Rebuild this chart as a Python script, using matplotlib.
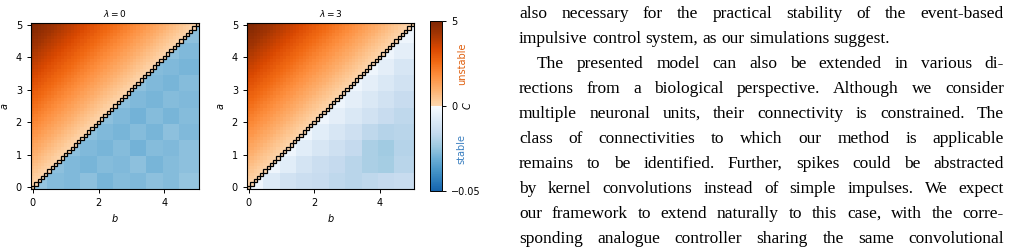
import numpy as np
import matplotlib
matplotlib.use('Agg')
import matplotlib.pyplot as plt
from matplotlib.colors import ListedColormap, TwoSlopeNorm
from matplotlib.patches import Rectangle

# ---------------- data ----------------
grid = np.round(np.arange(51) * 0.1, 1)          # a and b sample points, 0 ... 5
titles = [r'$\lambda = 0$', r'$\lambda = 3$']

# stable side (b > a): coarse estimates, one value per 0.5 x 0.5 block
# rows: a block (bottom -> top), cols: b block (left -> right)
stable_lam0 = [
    [-0.025, -0.027, -0.028, -0.026, -0.029, -0.027, -0.028, -0.026, -0.027, -0.025],
    [-0.025, -0.026, -0.028, -0.029, -0.027, -0.028, -0.026, -0.029, -0.027, -0.026],
    [-0.025, -0.025, -0.026, -0.028, -0.029, -0.027, -0.030, -0.027, -0.028, -0.026],
    [-0.025, -0.025, -0.025, -0.026, -0.028, -0.029, -0.027, -0.029, -0.026, -0.028],
    [-0.025, -0.025, -0.025, -0.025, -0.026, -0.028, -0.030, -0.027, -0.029, -0.027],
    [-0.025, -0.025, -0.025, -0.025, -0.025, -0.026, -0.028, -0.029, -0.027, -0.028],
    [-0.025, -0.025, -0.025, -0.025, -0.025, -0.025, -0.026, -0.028, -0.029, -0.027],
    [-0.025, -0.025, -0.025, -0.025, -0.025, -0.025, -0.025, -0.027, -0.028, -0.029],
    [-0.025, -0.025, -0.025, -0.025, -0.025, -0.025, -0.025, -0.025, -0.026, -0.028],
    [-0.025, -0.025, -0.025, -0.025, -0.025, -0.025, -0.025, -0.025, -0.025, -0.026],
]
stable_lam3 = [
    [-0.003, -0.008, -0.012, -0.014, -0.015, -0.017, -0.018, -0.017, -0.016, -0.015],
    [-0.001, -0.003, -0.007, -0.011, -0.014, -0.016, -0.018, -0.021, -0.022, -0.018],
    [-0.001, -0.001, -0.003, -0.007, -0.010, -0.013, -0.016, -0.021, -0.023, -0.019],
    [-0.001, -0.001, -0.001, -0.003, -0.007, -0.010, -0.013, -0.017, -0.019, -0.018],
    [-0.001, -0.001, -0.001, -0.001, -0.003, -0.006, -0.009, -0.012, -0.015, -0.017],
    [-0.001, -0.001, -0.001, -0.001, -0.001, -0.003, -0.006, -0.009, -0.012, -0.015],
    [-0.001, -0.001, -0.001, -0.001, -0.001, -0.001, -0.003, -0.006, -0.009, -0.012],
    [-0.001, -0.001, -0.001, -0.001, -0.001, -0.001, -0.001, -0.003, -0.006, -0.010],
    [-0.001, -0.001, -0.001, -0.001, -0.001, -0.001, -0.001, -0.001, -0.003, -0.006],
    [-0.001, -0.001, -0.001, -0.001, -0.001, -0.001, -0.001, -0.001, -0.001, -0.003],
]

text_lines = [
    "also necessary for the practical stability of the event-based",
    "impulsive control system, as our simulations suggest.",
    "The presented model can also be extended in various di-",
    "rections from a biological perspective. Although we consider",
    "multiple neuronal units, their connectivity is constrained. The",
    "class of connectivities to which our method is applicable",
    "remains to be identified. Further, spikes could be abstracted",
    "by kernel convolutions instead of simple impulses. We expect",
    "our framework to extend naturally to this case, with the corre-",
    "sponding analogue controller sharing the same convolutional",
]
justified = [True, False, True, True, True, True, True, True, True, True]
indented = [False, False, True, False, False, False, False, False, False, False]


def build_field(stable):
    A, B = np.meshgrid(grid, grid, indexing='ij')
    blk = np.minimum(np.arange(len(grid)) // 5, 9)
    st = np.asarray(stable)[blk][:, blk]
    C = np.where(A > B, A - B, st)
    C[A == B] = 0.0
    return C


# ---------------- figure ----------------
W, H = 1011, 250
fig = plt.figure(figsize=(W / 100, H / 100), dpi=100)

cmap = ListedColormap(np.vstack([plt.cm.Blues(np.linspace(0.8, 0.0, 128)),
                                 plt.cm.Oranges(np.linspace(0.22, 1.0, 128))]))
norm = TwoSlopeNorm(vmin=-0.05, vcenter=0.0, vmax=5.0)


def fig_rect(x0, y0, x1, y1):
    return [x0 / W, 1 - y1 / H, (x1 - x0) / W, (y1 - y0) / H]


axes = [fig.add_axes(fig_rect(31, 23, 199, 189)),
        fig.add_axes(fig_rect(247, 23, 414, 189))]
half = 0.05
for ax, stable, title in zip(axes, [stable_lam0, stable_lam3], titles):
    C = build_field(stable)
    im = ax.imshow(C, origin='lower', cmap=cmap, norm=norm, aspect='auto',
                   interpolation='nearest',
                   extent=(grid[0] - half, grid[-1] + half, grid[0] - half, grid[-1] + half))
    for g in grid:
        ax.add_patch(Rectangle((g - half, g - half), 2 * half, 2 * half,
                               fill=False, ec='black', lw=0.9))
    ax.set_xticks([0, 2, 4])
    ax.set_yticks([0, 1, 2, 3, 4, 5])
    ax.tick_params(labelsize=7, length=3, width=0.7)
    ax.set_xlabel(r'$b$', fontsize=7, labelpad=3)
    ax.set_ylabel(r'$a$', fontsize=7, labelpad=4)
    ax.set_title(title, fontsize=6.5, pad=4)

cax = fig.add_axes(fig_rect(430, 21, 442, 191))
cb = fig.colorbar(im, cax=cax, ticks=[-0.05, 0, 5])
cb.set_ticklabels(['\u22120.05', '0', '5'])
cb.ax.tick_params(labelsize=7, length=3, width=0.7)
cb.outline.set_linewidth(0.7)
cax.text(3.1, 0.5, r'$C$', transform=cax.transAxes, rotation=90,
         ha='center', va='center', fontsize=7)
cax.text(2.65, 0.75, 'unstable', transform=cax.transAxes, rotation=90,
         ha='center', va='center', fontsize=7, color='#e0600f')
cax.text(2.65, 0.25, 'stable', transform=cax.transAxes, rotation=90,
         ha='center', va='center', fontsize=7, color='#3a7fc0')

# ---------------- justified paragraph text ----------------
renderer = fig.canvas.get_renderer()
font = dict(family='Liberation Serif', fontsize=12.5)


def text_width(s):
    t = fig.text(0, 0, s, **font)
    w = t.get_window_extent(renderer).width
    t.remove()
    return w


space_w = text_width('a a') - text_width('aa')
left, right, indent = 519.0, 1004.0, 537.0
for i, (line, just, ind) in enumerate(zip(text_lines, justified, indented)):
    base = 18 + 25 * i
    x0 = indent if ind else left
    words = line.split(' ')
    widths = [text_width(w) for w in words]
    gap = (right - x0 - sum(widths)) / (len(words) - 1) if just else space_w
    x = x0
    for w, wd in zip(words, widths):
        fig.text(x / W, 1 - base / H, w, va='baseline', ha='left', **font)
        x += wd + gap

fig.savefig('out.png', dpi=100)
